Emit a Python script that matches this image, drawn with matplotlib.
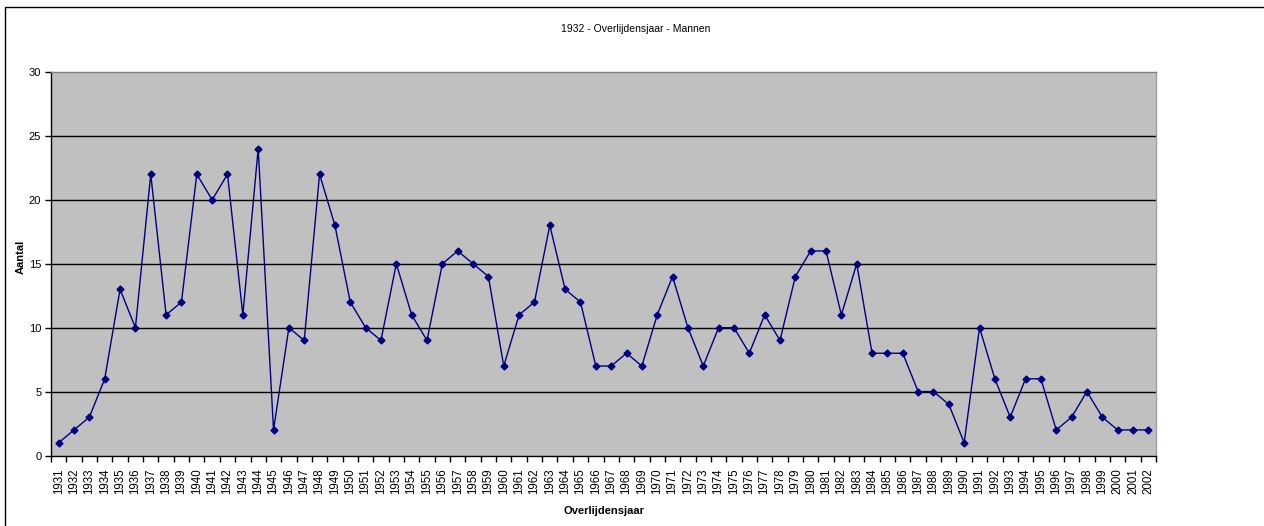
import numpy as np
import matplotlib
matplotlib.use("Agg")
import matplotlib.pyplot as plt
from matplotlib.patches import Rectangle

years = [str(y) for y in range(1931, 2003)]
aantal = [1, 2, 3, 6, 13, 10, 22, 11, 12, 22, 20, 22, 11, 24, 2, 10, 9, 22, 18, 12,
          10, 9, 15, 11, 9, 15, 16, 15, 14, 7, 11, 12, 18, 13, 12, 7, 7, 8, 7, 11,
          14, 10, 7, 10, 10, 8, 11, 9, 14, 16, 16, 11, 15, 8, 8, 8, 5, 5, 4, 1,
          10, 6, 3, 6, 6, 2, 3, 5, 3, 2, 2, 2]
y_ticks = [0, 5, 10, 15, 20, 25, 30]

plt.rcParams['font.family'] = ['Liberation Sans', 'DejaVu Sans']

W, H = 1264, 526
fig = plt.figure(figsize=(W / 100, H / 100), dpi=100)

# outer chart frame (only left/top edges fall inside the picture)
fig.patches.append(Rectangle((4.5 / W, -0.1), 1.2, 1 - 7 / H + 0.1,
                             transform=fig.transFigure, fill=False,
                             edgecolor='black', linewidth=1.0))

left, right, top, bottom = 51, 1156, 72, 455.5
ax = fig.add_axes([left / W, (H - bottom) / H, (right - left) / W, (bottom - top) / H])
ax.set_facecolor('#C0C0C0')

x = np.arange(len(years))
ax.plot(x, aantal, color='#000080', linewidth=1.0, marker='D', markersize=3.5,
        markerfacecolor='#000080', markeredgecolor='#000080', zorder=3)

ax.set_xlim(-0.5, len(years) - 0.5)
ax.set_ylim(0, 30)
ax.set_yticks(y_ticks)
ax.set_yticklabels([str(v) for v in y_ticks], fontsize=8)
for v in y_ticks[1:-1]:
    ax.axhline(v, color='black', linewidth=1.0, zorder=1)

ax.set_xticks(np.arange(-0.5, len(years), 1.0))
ax.set_xticklabels([])
ax.set_xticks(x, minor=True)
ax.set_xticklabels(years, minor=True, rotation=90, fontsize=8.3)
ax.tick_params(axis='x', which='major', length=4, width=1, direction='out')
ax.tick_params(axis='x', which='minor', length=0, pad=9)
ax.tick_params(axis='y', length=4, width=1, direction='out', pad=3)

ax.spines['left'].set_color('black')
ax.spines['bottom'].set_color('black')
ax.spines['top'].set_color('#808080')
ax.spines['right'].set_color('#A0A0A0')
for s in ax.spines.values():
    s.set_linewidth(1.0)

fig.text(636 / W, 1 - 29 / H, '1932 - Overlijdensjaar - Mannen', ha='center',
         va='center', fontsize=7.5)
fig.text((left + right) / 2 / W, 1 - 511 / H, 'Overlijdensjaar', ha='center',
         va='center', fontsize=8, fontweight='bold')
fig.text(21 / W, 1 - 257 / H, 'Aantal', ha='center', va='center', rotation=90,
         fontsize=8, fontweight='bold')

fig.savefig('out.png', dpi=100)
